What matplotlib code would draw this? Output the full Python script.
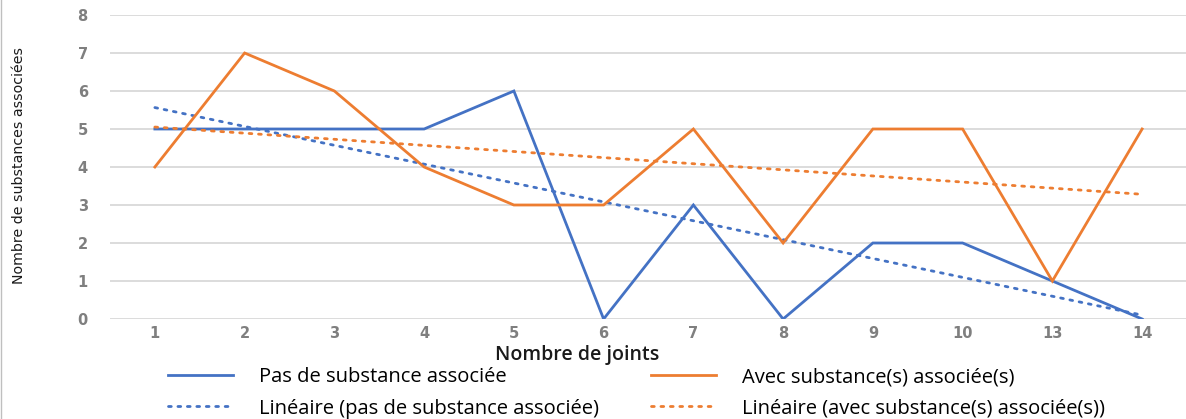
import numpy as np
import matplotlib
matplotlib.use("Agg")
import matplotlib.pyplot as plt

# data
joints = ["1", "2", "3", "4", "5", "6", "7", "8", "9", "10", "13", "14"]
sans_substance = [5, 5, 5, 5, 6, 0, 3, 0, 2, 2, 1, 0]
avec_substance = [4, 7, 6, 4, 3, 3, 5, 2, 5, 5, 1, 5]

BLUE = "#4472C4"
ORANGE = "#ED7D31"

fig = plt.figure(figsize=(11.86, 4.19), dpi=100)
ax = fig.add_axes([110 / 1186, 1 - 319 / 419, 1077 / 1186, 304 / 419])

x = np.arange(1, len(joints) + 1)

# linear trend lines (Excel style, fitted on category index)
p_blue = np.polyfit(x, sans_substance, 1)
p_orange = np.polyfit(x, avec_substance, 1)

l1, = ax.plot(x, sans_substance, color=BLUE, lw=2.0, solid_joinstyle="miter")
l2, = ax.plot(x, np.polyval(p_blue, x), color=BLUE, lw=2.0, ls=(0, (1, 2.4)),
              dash_capstyle="round")
l3, = ax.plot(x, avec_substance, color=ORANGE, lw=2.0, solid_joinstyle="miter")
l4, = ax.plot(x, np.polyval(p_orange, x), color=ORANGE, lw=2.0, ls=(0, (1, 2.4)),
              dash_capstyle="round")

ax.set_xlim(0.5, len(joints) + 0.5)
ax.set_ylim(0, 8)
ax.set_yticks(range(0, 9))
ax.set_xticks(x)
ax.set_xticklabels(joints)
ax.grid(axis="y", color="#d9d9d9", lw=1.3)
ax.set_axisbelow(True)
for s in ax.spines.values():
    s.set_visible(False)
ax.tick_params(length=0, labelsize=10.5, labelcolor="#7f7f7f", pad=5)
ax.tick_params(axis="y", pad=16)
for lab in ax.get_xticklabels() + ax.get_yticklabels():
    lab.set_fontweight("bold")

ax.set_xlabel("Nombre de joints", fontsize=14, family="Open Sans",
              fontweight="semibold", color="#1a1a1a")
ax.xaxis.set_label_coords((577 - 110) / 1077, -0.118)
ax.xaxis.label.set_va("center")

fig.text(19 / 1186, 1 - 165 / 419, "Nombre de substances associées",
         rotation=90, ha="center", va="center", fontsize=10.2,
         family="DejaVu Sans", color="#1a1a1a")

fig.legend([l1, l2, l3, l4],
           ["Pas de substance associée",
            "Linéaire (pas de substance associée)",
            "Avec substance(s) associée(s)",
            "Linéaire (avec substance(s) associée(s))"],
           ncol=2, frameon=False, loc="center left",
           bbox_to_anchor=(150 / 1186, 1 - 393 / 419),
           prop={"family": "Open Sans", "size": 14.5},
           handlelength=3.2, handletextpad=1.3, columnspacing=2.6,
           labelspacing=0.55)

# thin grey border on the left edge as in the source image
fig.add_artist(plt.Line2D([0.001, 0.001], [0, 1], color="#bfbfbf", lw=1))

fig.savefig("out.png", dpi=100)
